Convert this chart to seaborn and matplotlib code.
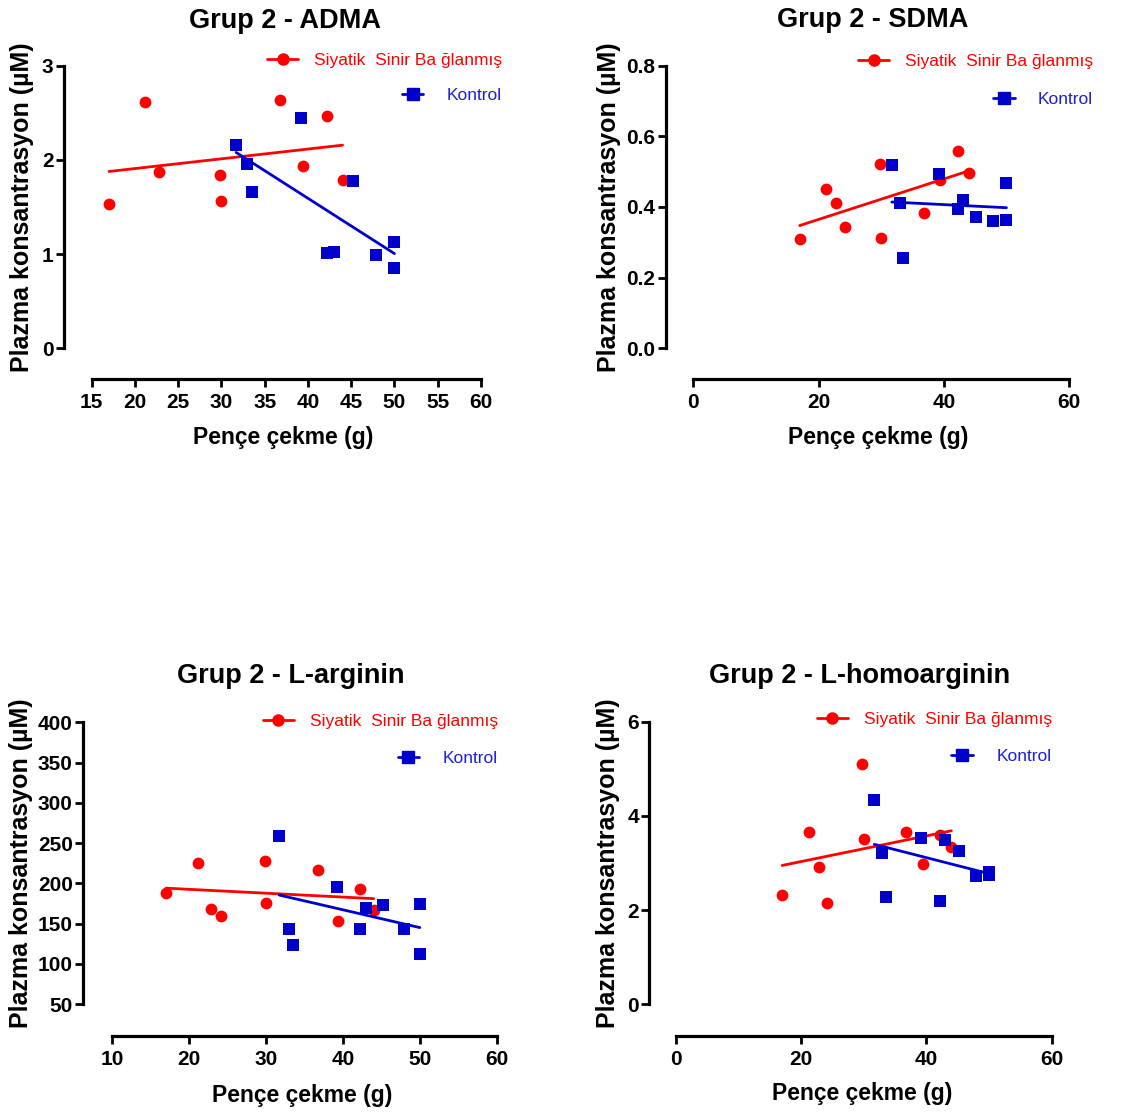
import numpy as np
import matplotlib
matplotlib.use('Agg')
import matplotlib.pyplot as plt
from matplotlib.lines import Line2D
import seaborn as sns

# x values (paw withdrawal, g) - same animals in every panel
sna_x = [17.0, 21.2, 22.8, 24.2, 29.8, 30.0, 36.8, 39.4, 42.2, 44.0]
kon_x = [31.7, 33.0, 33.5, 39.2, 42.2, 43.0, 45.2, 47.9, 50.0, 50.0]

# plasma concentrations (nan = point not shown)
adma_sna = [1.53, 2.61, 1.87, np.nan, 1.84, 1.56, 2.64, 1.93, 2.47, 1.79]
adma_kon = [2.16, 1.96, 1.66, 2.44, 1.01, 1.02, 1.78, 0.99, 1.13, 0.85]
sdma_sna = [0.310, 0.451, 0.412, 0.344, 0.522, 0.311, 0.382, 0.476, 0.558, 0.497]
sdma_kon = [0.519, 0.410, 0.256, 0.492, 0.394, 0.420, 0.372, 0.361, 0.467, 0.363]
larg_sna = [188, 225, 168, 160, 228, 176, 217, 153, 193, 167]
larg_kon = [259, 144, 124, 195, 144, 169, 173, 144, 174, 112]
lhomo_sna = [2.32, 3.66, 2.91, 2.16, 5.10, 3.52, 3.65, 2.97, 3.59, 3.35]
lhomo_kon = [4.34, 3.22, 2.28, 3.54, 2.20, 3.49, 3.26, 2.73, 2.80, 2.75]

titles = ['Grup 2 - ADMA', 'Grup 2 - SDMA', 'Grup 2 - L-arginin', 'Grup 2 - L-homoarginin']
xticks_list = [[15, 20, 25, 30, 35, 40, 45, 50, 55, 60], [0, 20, 40, 60],
               [10, 20, 30, 40, 50, 60], [0, 20, 40, 60]]
yticks_list = [[0, 1, 2, 3], [0.0, 0.2, 0.4, 0.6, 0.8],
               [50, 100, 150, 200, 250, 300, 350, 400], [0, 2, 4, 6]]
ytick_labels = [['0', '1', '2', '3'], ['0.0', '0.2', '0.4', '0.6', '0.8'],
                ['50', '100', '150', '200', '250', '300', '350', '400'], ['0', '2', '4', '6']]
sna_label = 'Siyatik  Sinir Ba ğlanmış'
kon_label = 'Kontrol'
xlabel = 'Pençe çekme (g)'
ylabel = 'Plazma konsantrasyon (µM)'

sna_ys = [adma_sna, sdma_sna, larg_sna, lhomo_sna]
kon_ys = [adma_kon, sdma_kon, larg_kon, lhomo_kon]

RED = '#FF0000'
BLUE = '#0000CC'

# layout: axes rect, spine offsets (pt), label / title / legend positions (axes fraction)
rects = [[0.0817, 0.6876, 0.3470, 0.2535], [0.6179, 0.6876, 0.3349, 0.2535],
         [0.1001, 0.0993, 0.3426, 0.2529], [0.6022, 0.0993, 0.3351, 0.2534]]
offsets = [(20, 22), (20, 22), (21, 23), (19, 23)]
ylab_x = [-0.179, -0.224, -0.2375, -0.181]
xlab_pos = [(0.491, -0.317), (0.492, -0.317), (0.493, -0.322), (0.495, -0.315)]
title_pos = [(0.4965, 1.133), (0.4775, 1.138), (0.4636, 1.138), (0.490, 1.136)]
legend_pos = [(1.054, 1.020, 0.893), (1.064, 1.014, 0.881),
              (1.003, 1.002, 0.872), (1.000, 1.008, 0.876)]

sns.set_style('ticks')
plt.rcParams['font.family'] = ['Liberation Sans', 'DejaVu Sans']
plt.rcParams['font.weight'] = 'bold'
plt.rcParams['text.color'] = 'black'
plt.rcParams['axes.labelcolor'] = 'black'
plt.rcParams['xtick.color'] = 'black'
plt.rcParams['ytick.color'] = 'black'
plt.rcParams['axes.edgecolor'] = 'black'

fig = plt.figure(figsize=(11.22, 11.15), dpi=100)

for i in range(4):
    ax = fig.add_axes(rects[i])
    sns.regplot(x=sna_x, y=sna_ys[i], ax=ax, ci=None, color=RED, marker='o',
                scatter_kws={'s': 72, 'alpha': 1, 'linewidths': 0, 'zorder': 3},
                line_kws={'lw': 2, 'zorder': 2})
    sns.regplot(x=kon_x, y=kon_ys[i], ax=ax, ci=None, color=BLUE, marker='s',
                scatter_kws={'s': 72, 'alpha': 1, 'linewidths': 0, 'zorder': 4},
                line_kws={'lw': 2, 'zorder': 4})

    xt = xticks_list[i]
    yt = yticks_list[i]
    ax.set_xlim(xt[0], xt[-1])
    ax.set_ylim(yt[0], yt[-1])
    ax.set_xticks(xt)
    ax.set_yticks(yt)
    ax.set_yticklabels(ytick_labels[i])
    sns.despine(ax=ax, offset={'left': offsets[i][0], 'bottom': offsets[i][1]})
    for side in ['left', 'bottom']:
        ax.spines[side].set_linewidth(2.3)
        ax.spines[side].set_color('black')
    ax.tick_params(axis='both', width=2, length=6, labelsize=15, colors='black')
    ax.tick_params(axis='x', pad=4)
    ax.tick_params(axis='y', pad=1.5)

    ax.set_xlabel(xlabel, fontsize=16.5, fontweight='bold', va='center', color='black')
    ax.xaxis.set_label_coords(*xlab_pos[i])
    ax.set_ylabel(ylabel, fontsize=18, fontweight='bold', va='center', color='black')
    ax.yaxis.set_label_coords(ylab_x[i], 0.5)

    ax.text(title_pos[i][0], title_pos[i][1], titles[i], transform=ax.transAxes,
            ha='center', va='baseline', fontsize=19.5, fontweight='bold', color='black')

    lx, ly1, ly2 = legend_pos[i]
    h1 = Line2D([], [], color=RED, marker='o', markersize=8, lw=2)
    h2 = Line2D([], [], color=BLUE, marker='s', markersize=8, lw=2)
    leg1 = ax.legend([h1], [sna_label], loc='center right', bbox_to_anchor=(lx, ly1),
                     frameon=False, borderpad=0, borderaxespad=0, handlelength=1.8,
                     handletextpad=0.9, prop={'size': 12.5, 'weight': 'normal'},
                     labelcolor=RED)
    ax.add_artist(leg1)
    ax.legend([h2], [kon_label], loc='center right', bbox_to_anchor=(lx, ly2),
              frameon=False, borderpad=0, borderaxespad=0, handlelength=1.25,
              handletextpad=1.35, prop={'size': 12.5, 'weight': 'normal'},
              labelcolor='#1F1FD9')

fig.savefig('out.png', dpi=100)
